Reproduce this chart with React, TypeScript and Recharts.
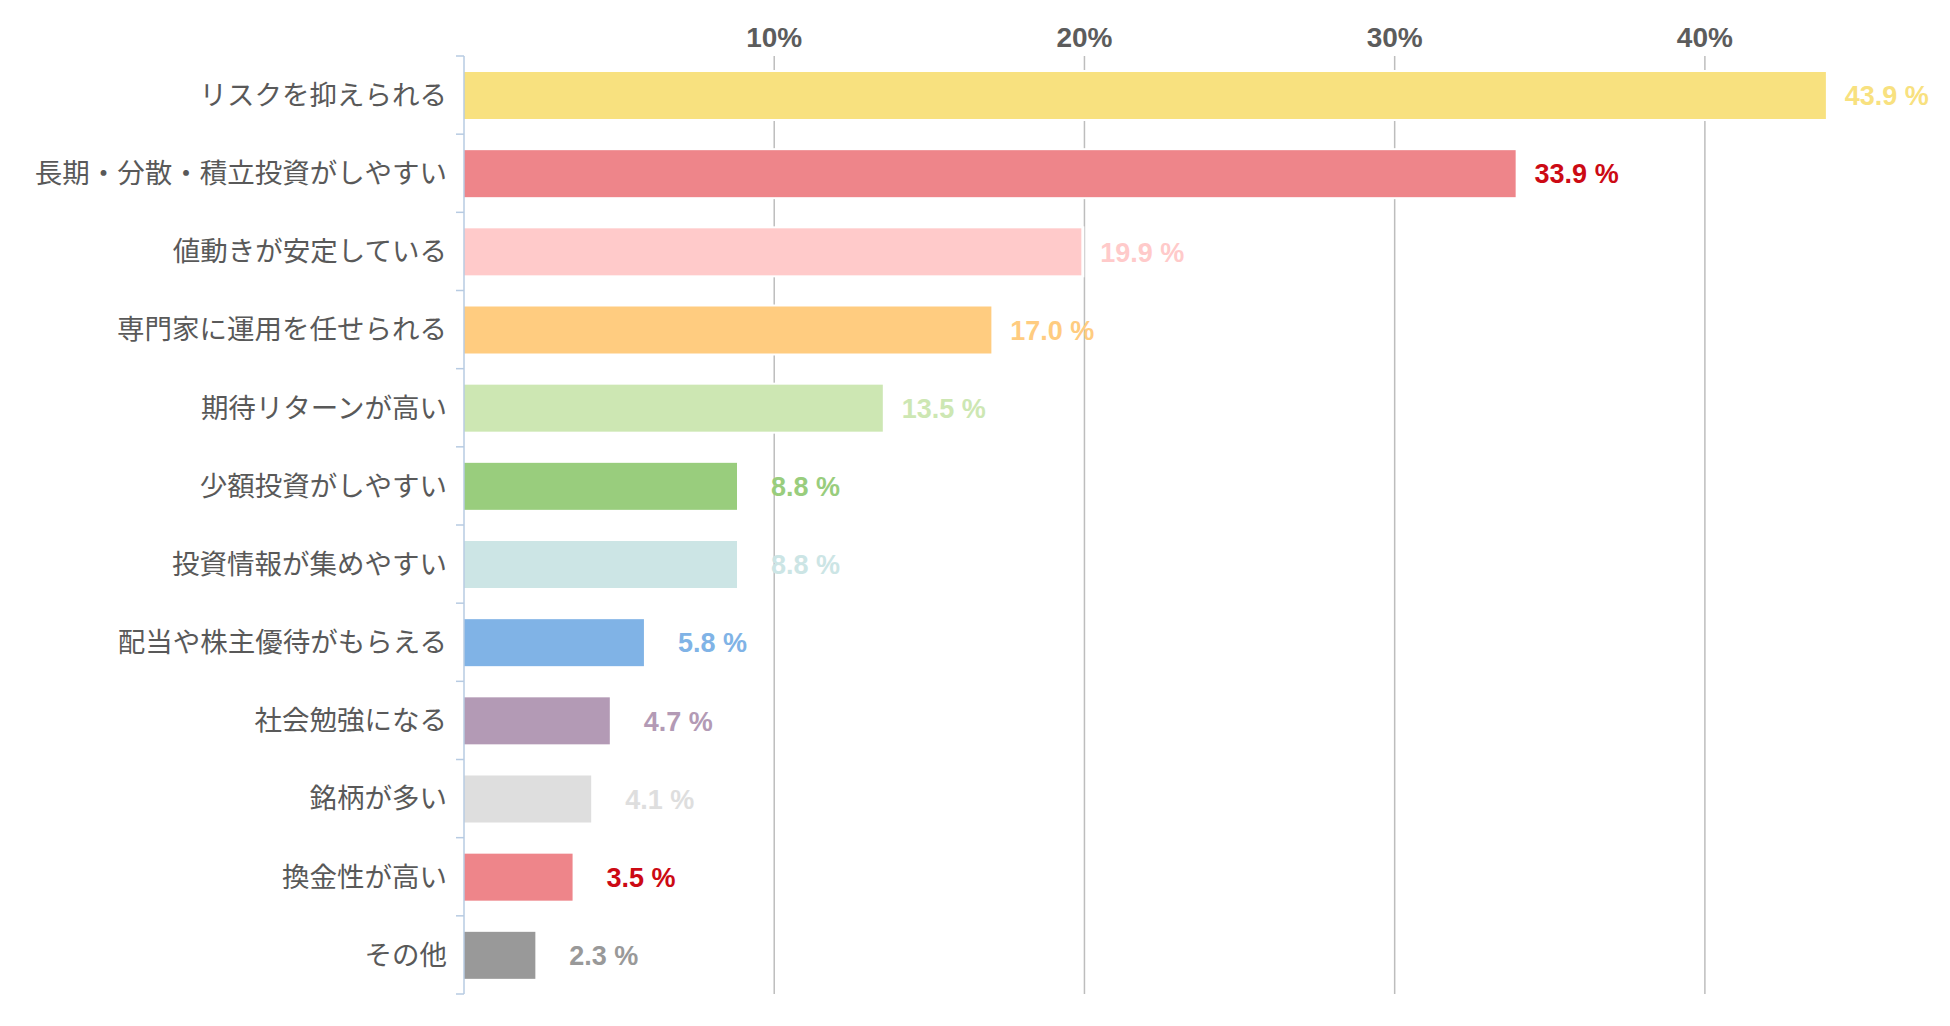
import React from 'react';
import { BarChart, Bar, XAxis, YAxis, CartesianGrid, Cell, LabelList } from 'recharts';

const categories = [
  'リスクを抑えられる',
  '長期・分散・積立投資がしやすい',
  '値動きが安定している',
  '専門家に運用を任せられる',
  '期待リターンが高い',
  '少額投資がしやすい',
  '投資情報が集めやすい',
  '配当や株主優待がもらえる',
  '社会勉強になる',
  '銘柄が多い',
  '換金性が高い',
  'その他',
];

const shares = [43.9, 33.9, 19.9, 17.0, 13.5, 8.8, 8.8, 5.8, 4.7, 4.1, 3.5, 2.3];

const barColors = [
  '#f8e17f', '#ee858a', '#ffcaca', '#ffcc80', '#cde7b3', '#99cd7d',
  '#cce5e5', '#80b3e6', '#b39ab5', '#dedede', '#ee858a', '#999999',
];

const labelColors = [
  '#f8e17f', '#cc0a14', '#ffcaca', '#ffcc80', '#cde7b3', '#99cd7d',
  '#cce5e5', '#80b3e6', '#b39ab5', '#dedede', '#cc0a14', '#999999',
];

const xTicks = [10, 20, 30, 40];

const data = categories.map((name, i) => ({ name, value: shares[i] }));

const W = 1942;
const H = 1010;
const AXIS_W = 456;
const TOP = 48;
const BOTTOM = 24;
const BAND = (H - TOP - BOTTOM) / categories.length;

const numFont = '"Liberation Sans", Arial, sans-serif';
const jpFont = '"Noto Sans CJK JP", "Noto Sans", sans-serif';

function XTick({ x, payload }: any) {
  return (
    <text x={x} y={39} textAnchor="middle" fill="#5c5c5c" fontSize={28} fontWeight="bold" fontFamily={numFont}>
      {`${payload.value}%`}
    </text>
  );
}

function YTick({ y, payload, index }: any) {
  const last = index === categories.length - 1;
  return (
    <g>
      <line x1={AXIS_W - 8} x2={AXIS_W} y1={y - BAND / 2} y2={y - BAND / 2} stroke="#b7cbe2" strokeWidth={1.5} />
      {last && (
        <line x1={AXIS_W - 8} x2={AXIS_W} y1={y + BAND / 2} y2={y + BAND / 2} stroke="#b7cbe2" strokeWidth={1.5} />
      )}
      <text x={AXIS_W - 17} y={y} dy="0.36em" textAnchor="end" fill="#595959" fontSize={27.5} fontFamily={jpFont}>
        {payload.value}
      </text>
    </g>
  );
}

function BarShape({ x, y, width, height, fill }: any) {
  return (
    <g>
      <rect x={x + 1} y={y - 2} width={width + 2} height={height + 4} fill="#fff" />
      <rect x={x} y={y} width={width} height={height} fill={fill} />
    </g>
  );
}

function ValueLabel({ x, y, width, height, value, index }: any) {
  return (
    <text
      x={x + width + 103}
      y={y + height / 2}
      dy="0.36em"
      textAnchor="end"
      fill={labelColors[index]}
      fontSize={27}
      fontWeight="bold"
      fontFamily={numFont}
    >
      {`${Number(value).toFixed(1)} %`}
    </text>
  );
}

export default function App() {
  return (
    <div style={{ width: W, height: H, background: '#fff' }}>
      <BarChart
        width={W}
        height={H}
        data={data}
        layout="vertical"
        margin={{ top: 0, right: 90, bottom: BOTTOM, left: 0 }}
        barSize={47}
      >
        <CartesianGrid
          horizontal={false}
          verticalValues={xTicks}
          stroke="#bdbdbd"
          strokeWidth={1.5}
        />
        <XAxis
          type="number"
          orientation="top"
          domain={[0, 45]}
          ticks={xTicks}
          height={TOP}
          axisLine={false}
          tickLine={false}
          tick={<XTick />}
        />
        <YAxis
          type="category"
          dataKey="name"
          width={AXIS_W}
          axisLine={{ stroke: '#b7cbe2', strokeWidth: 1.5 }}
          tickLine={false}
          tick={<YTick />}
          interval={0}
        />
        <Bar dataKey="value" isAnimationActive={false} shape={<BarShape />}>
          {data.map((d, i) => (
            <Cell key={d.name} fill={barColors[i]} />
          ))}
          <LabelList dataKey="value" content={<ValueLabel />} />
        </Bar>
      </BarChart>
    </div>
  );
}
